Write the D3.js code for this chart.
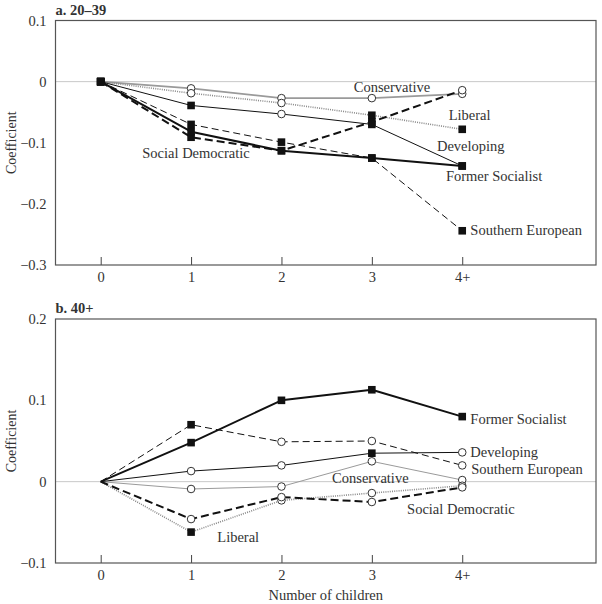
<!DOCTYPE html>
<html>
<head>
<meta charset="utf-8">
<script src="https://cdn.jsdelivr.net/npm/d3@7"></script>
<style>
  html, body { margin: 0; padding: 0; background: #fff; }
  svg { display: block; }
  text { font-family: "Liberation Serif", "DejaVu Serif", serif; fill: #333; }
</style>
</head>
<body>
<svg id="chart" width="602" height="604"></svg>
<script>
// ---------- data ----------
const xLabels = ["0", "1", "2", "3", "4+"];
const seriesNames = ["Conservative", "Liberal", "Social Democratic", "Southern European", "Former Socialist", "Developing"];

// Panel a. 20–39
const topConservative = [0, -0.011, -0.027, -0.027, -0.020];
const topLiberal      = [0, -0.019, -0.035, -0.055, -0.078];
const topSocialDem    = [0, -0.091, -0.113, -0.066, -0.014];
const topSouthernEu   = [0, -0.070, -0.099, -0.125, -0.244];
const topFormerSoc    = [0, -0.082, -0.113, -0.125, -0.138];
const topDeveloping   = [0, -0.039, -0.053, -0.070, -0.138];
// marker per point: "s" filled square, "o" open circle, "" none
const topConservativeM = ["s", "o", "o", "o", "o"];
const topLiberalM      = ["s", "o", "o", "s", "s"];
const topSocialDemM    = ["s", "s", "s", "s", "o"];
const topSouthernEuM   = ["s", "s", "s", "s", "s"];
const topFormerSocM    = ["s", "s", "s", "s", "s"];
const topDevelopingM   = ["s", "s", "o", "s", "s"];
const topTicks = [0.1, 0, -0.1, -0.2, -0.3];

// Panel b. 40+
const botConservative = [0, -0.009, -0.006, 0.025, 0.002];
const botLiberal      = [0, -0.062, -0.023, -0.014, -0.005];
const botSocialDem    = [0, -0.046, -0.019, -0.025, -0.007];
const botSouthernEu   = [0, 0.070, 0.049, 0.050, 0.020];
const botFormerSoc    = [0, 0.048, 0.100, 0.113, 0.080];
const botDeveloping   = [0, 0.013, 0.020, 0.035, 0.036];
const botConservativeM = ["", "o", "o", "o", "o"];
const botLiberalM      = ["", "s", "o", "o", "o"];
const botSocialDemM    = ["", "o", "o", "o", "o"];
const botSouthernEuM   = ["", "s", "o", "o", "o"];
const botFormerSocM    = ["", "s", "s", "s", "s"];
const botDevelopingM   = ["", "o", "o", "s", "o"];
const botTicks = [0.2, 0.1, 0, -0.1];

// ---------- styles / layout ----------
const styles = {
  "Conservative":      { stroke: "#9a9a9a", width: 1.8, dash: null },
  "Liberal":           { stroke: "#8a8a8a", width: 1.6, dash: "1,1.2" },
  "Social Democratic": { stroke: "#111",    width: 2.0, dash: "8,4" },
  "Southern European": { stroke: "#111",    width: 1.0, dash: "7,4" },
  "Former Socialist":  { stroke: "#111",    width: 2.0, dash: null },
  "Developing":        { stroke: "#111",    width: 1.0, dash: null }
};

// label anchors (x index, y value) for each panel
const topLabelPos = {
  "Conservative": [2.80, -0.0164], "Liberal": [3.85, -0.0623], "Developing": [3.72, -0.113],
  "Former Socialist": [3.82, -0.162], "Southern European": [4.09, -0.251], "Social Democratic": [0.46, -0.125]
};
const botLabelPos = {
  "Former Socialist": [4.09, 0.0713], "Developing": [4.09, 0.0308], "Southern European": [4.10, 0.0098],
  "Conservative": [2.56, -0.0012], "Social Democratic": [3.39, -0.0394], "Liberal": [1.29, -0.0738]
};

const svg = d3.select("#chart");

function drawPanel(cfg) {
  const g = svg.append("g");
  const x = d3.scaleLinear().domain([-0.5, 5.48]).range([55.5, 596]);
  const y = d3.scaleLinear().domain(cfg.yDomain).range([cfg.bottom, cfg.top]);

  // zero line
  g.append("line")
    .attr("x1", x(-0.5)).attr("x2", x(5.48))
    .attr("y1", y(0)).attr("y2", y(0))
    .attr("stroke", "#c8c8c8").attr("stroke-width", 1);

  // x axis: inward ticks on bottom frame
  const xAxis = d3.axisBottom(x).tickValues(d3.range(xLabels.length))
    .tickFormat(i => xLabels[i]).tickSizeInner(-8).tickSizeOuter(0).tickPadding(7);
  const gx = g.append("g").attr("transform", `translate(0,${cfg.bottom})`).call(xAxis);
  gx.select(".domain").remove();
  gx.selectAll(".tick line").attr("stroke", "#444");
  gx.selectAll(".tick text").attr("font-size", 14.5).attr("fill", "#333")
    .attr("font-family", "Liberation Serif, serif");

  // y axis: labels only
  const yAxis = d3.axisLeft(y).tickValues(cfg.ticks)
    .tickFormat(d => d === 0 ? "0" : d3.format(".1f")(d).replace("-", "\u2212"))
    .tickSize(0).tickPadding(9);
  const gy = g.append("g").attr("transform", `translate(${x(-0.5)},0)`).call(yAxis);
  gy.select(".domain").remove();
  gy.selectAll(".tick text").attr("font-size", 14.5).attr("fill", "#333")
    .attr("font-family", "Liberation Serif, serif");

  // frame
  g.append("rect")
    .attr("x", x(-0.5)).attr("y", cfg.top)
    .attr("width", x(5.48) - x(-0.5)).attr("height", cfg.bottom - cfg.top)
    .attr("fill", "none").attr("stroke", "#555").attr("stroke-width", 1.2);

  const line = d3.line().x((d, i) => x(i)).y(d => y(d));

  cfg.series.forEach(s => {
    const st = styles[s.name];
    g.append("path").datum(s.values)
      .attr("d", line)
      .attr("fill", "none")
      .attr("stroke", st.stroke)
      .attr("stroke-width", s.width || st.width)
      .attr("stroke-dasharray", st.dash)
      .attr("stroke-linejoin", "round");
  });

  cfg.series.forEach(s => {
    const pts = s.values.map((v, i) => ({ i, v, m: s.markers[i] }));
    g.selectAll(null).data(pts.filter(p => p.m === "o")).enter()
      .append("circle")
      .attr("cx", p => x(p.i)).attr("cy", p => y(p.v)).attr("r", 3.8)
      .attr("fill", "#fff").attr("stroke", "#333").attr("stroke-width", 1);
    g.selectAll(null).data(pts.filter(p => p.m === "s")).enter()
      .append("rect")
      .attr("x", p => x(p.i) - 3.8).attr("y", p => y(p.v) - 3.8)
      .attr("width", 7.6).attr("height", 7.6).attr("fill", "#111");
  });

  // series labels
  cfg.series.forEach(s => {
    const pos = cfg.labelPos[s.name];
    g.append("text")
      .attr("x", x(pos[0])).attr("y", y(pos[1]))
      .attr("font-size", 14.5)
      .text(s.name);
  });

  // title
  g.append("text")
    .attr("x", x(-0.5)).attr("y", cfg.top - 6)
    .attr("font-size", 14.5).attr("font-weight", "bold").attr("fill", "#222")
    .text(cfg.title);

  // y label
  g.append("text")
    .attr("transform", `translate(16,${(cfg.top + cfg.bottom) / 2}) rotate(-90)`)
    .attr("text-anchor", "middle").attr("font-size", 14)
    .text("Coefficient");

  return x;
}

drawPanel({
  title: "a. 20\u201339", top: 20.5, bottom: 265, yDomain: [-0.3, 0.1], ticks: topTicks,
  labelPos: topLabelPos,
  series: [
    { name: seriesNames[0], values: topConservative, markers: topConservativeM },
    { name: seriesNames[1], values: topLiberal, markers: topLiberalM },
    { name: seriesNames[2], values: topSocialDem, markers: topSocialDemM },
    { name: seriesNames[3], values: topSouthernEu, markers: topSouthernEuM },
    { name: seriesNames[4], values: topFormerSoc, markers: topFormerSocM },
    { name: seriesNames[5], values: topDeveloping, markers: topDevelopingM }
  ]
});

const xs = drawPanel({
  title: "b. 40+", top: 319, bottom: 563, yDomain: [-0.1, 0.2], ticks: botTicks,
  labelPos: botLabelPos,
  series: [
    { name: seriesNames[0], values: botConservative, markers: botConservativeM, width: 1 },
    { name: seriesNames[1], values: botLiberal, markers: botLiberalM },
    { name: seriesNames[2], values: botSocialDem, markers: botSocialDemM },
    { name: seriesNames[3], values: botSouthernEu, markers: botSouthernEuM },
    { name: seriesNames[4], values: botFormerSoc, markers: botFormerSocM },
    { name: seriesNames[5], values: botDeveloping, markers: botDevelopingM }
  ]
});

svg.append("text")
  .attr("x", (xs(-0.5) + xs(5.48)) / 2).attr("y", 600)
  .attr("text-anchor", "middle").attr("font-size", 14.5)
  .text("Number of children");
</script>
</body>
</html>
